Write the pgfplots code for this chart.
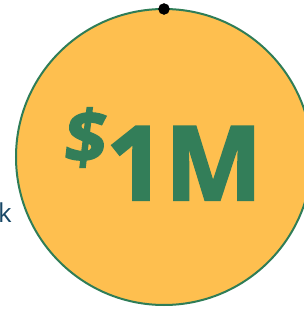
\documentclass[border=0pt]{standalone}
\usepackage{pgfplots}
\pgfplotsset{compat=1.18}
\usepackage{fontspec}
\setmainfont{Open Sans}
\newfontfamily\heavyfont{Open Sans Bold}[FakeBold=2.2]
\newfontfamily\heavyslant{Open Sans Bold}[FakeBold=2.2,FakeSlant=0.12]
\definecolor{circfill}{HTML}{FEBF4F}
\definecolor{circline}{HTML}{2F7D57}
\definecolor{txtgreen}{HTML}{337E59}
\definecolor{kblue}{HTML}{174766}
\begin{document}
\begin{tikzpicture}
\path[use as bounding box] (0,0) rectangle (304pt,309pt);
\clip (0,0) rectangle (304pt,309pt);
\begin{axis}[at={(0,0)},anchor=south west,scale only axis,width=304pt,height=309pt,
  xmin=0,xmax=304,ymin=0,ymax=309,hide axis,clip=false]
\addplot[only marks,mark=*,mark size=148pt,mark options={draw=circline,line width=2pt,fill=circfill}] coordinates {(164,152)};
\addplot[only marks,mark=*,mark size=5.5pt,mark options={draw=black,fill=black}] coordinates {(164,300)};
\end{axis}
\node[anchor=base west,inner sep=0pt,text=txtgreen,font=\heavyfont\fontsize{103}{103}\selectfont] at (106pt,109pt) {1M};
\node[anchor=base west,inner sep=0pt,text=txtgreen,font=\heavyslant\fontsize{73}{73}\selectfont] at (62pt,146pt) {\$};
\node[anchor=base east,inner sep=0pt,text=kblue,font=\fontsize{26}{26}\selectfont] at (12pt,86pt) {k};
\end{tikzpicture}
\end{document}
